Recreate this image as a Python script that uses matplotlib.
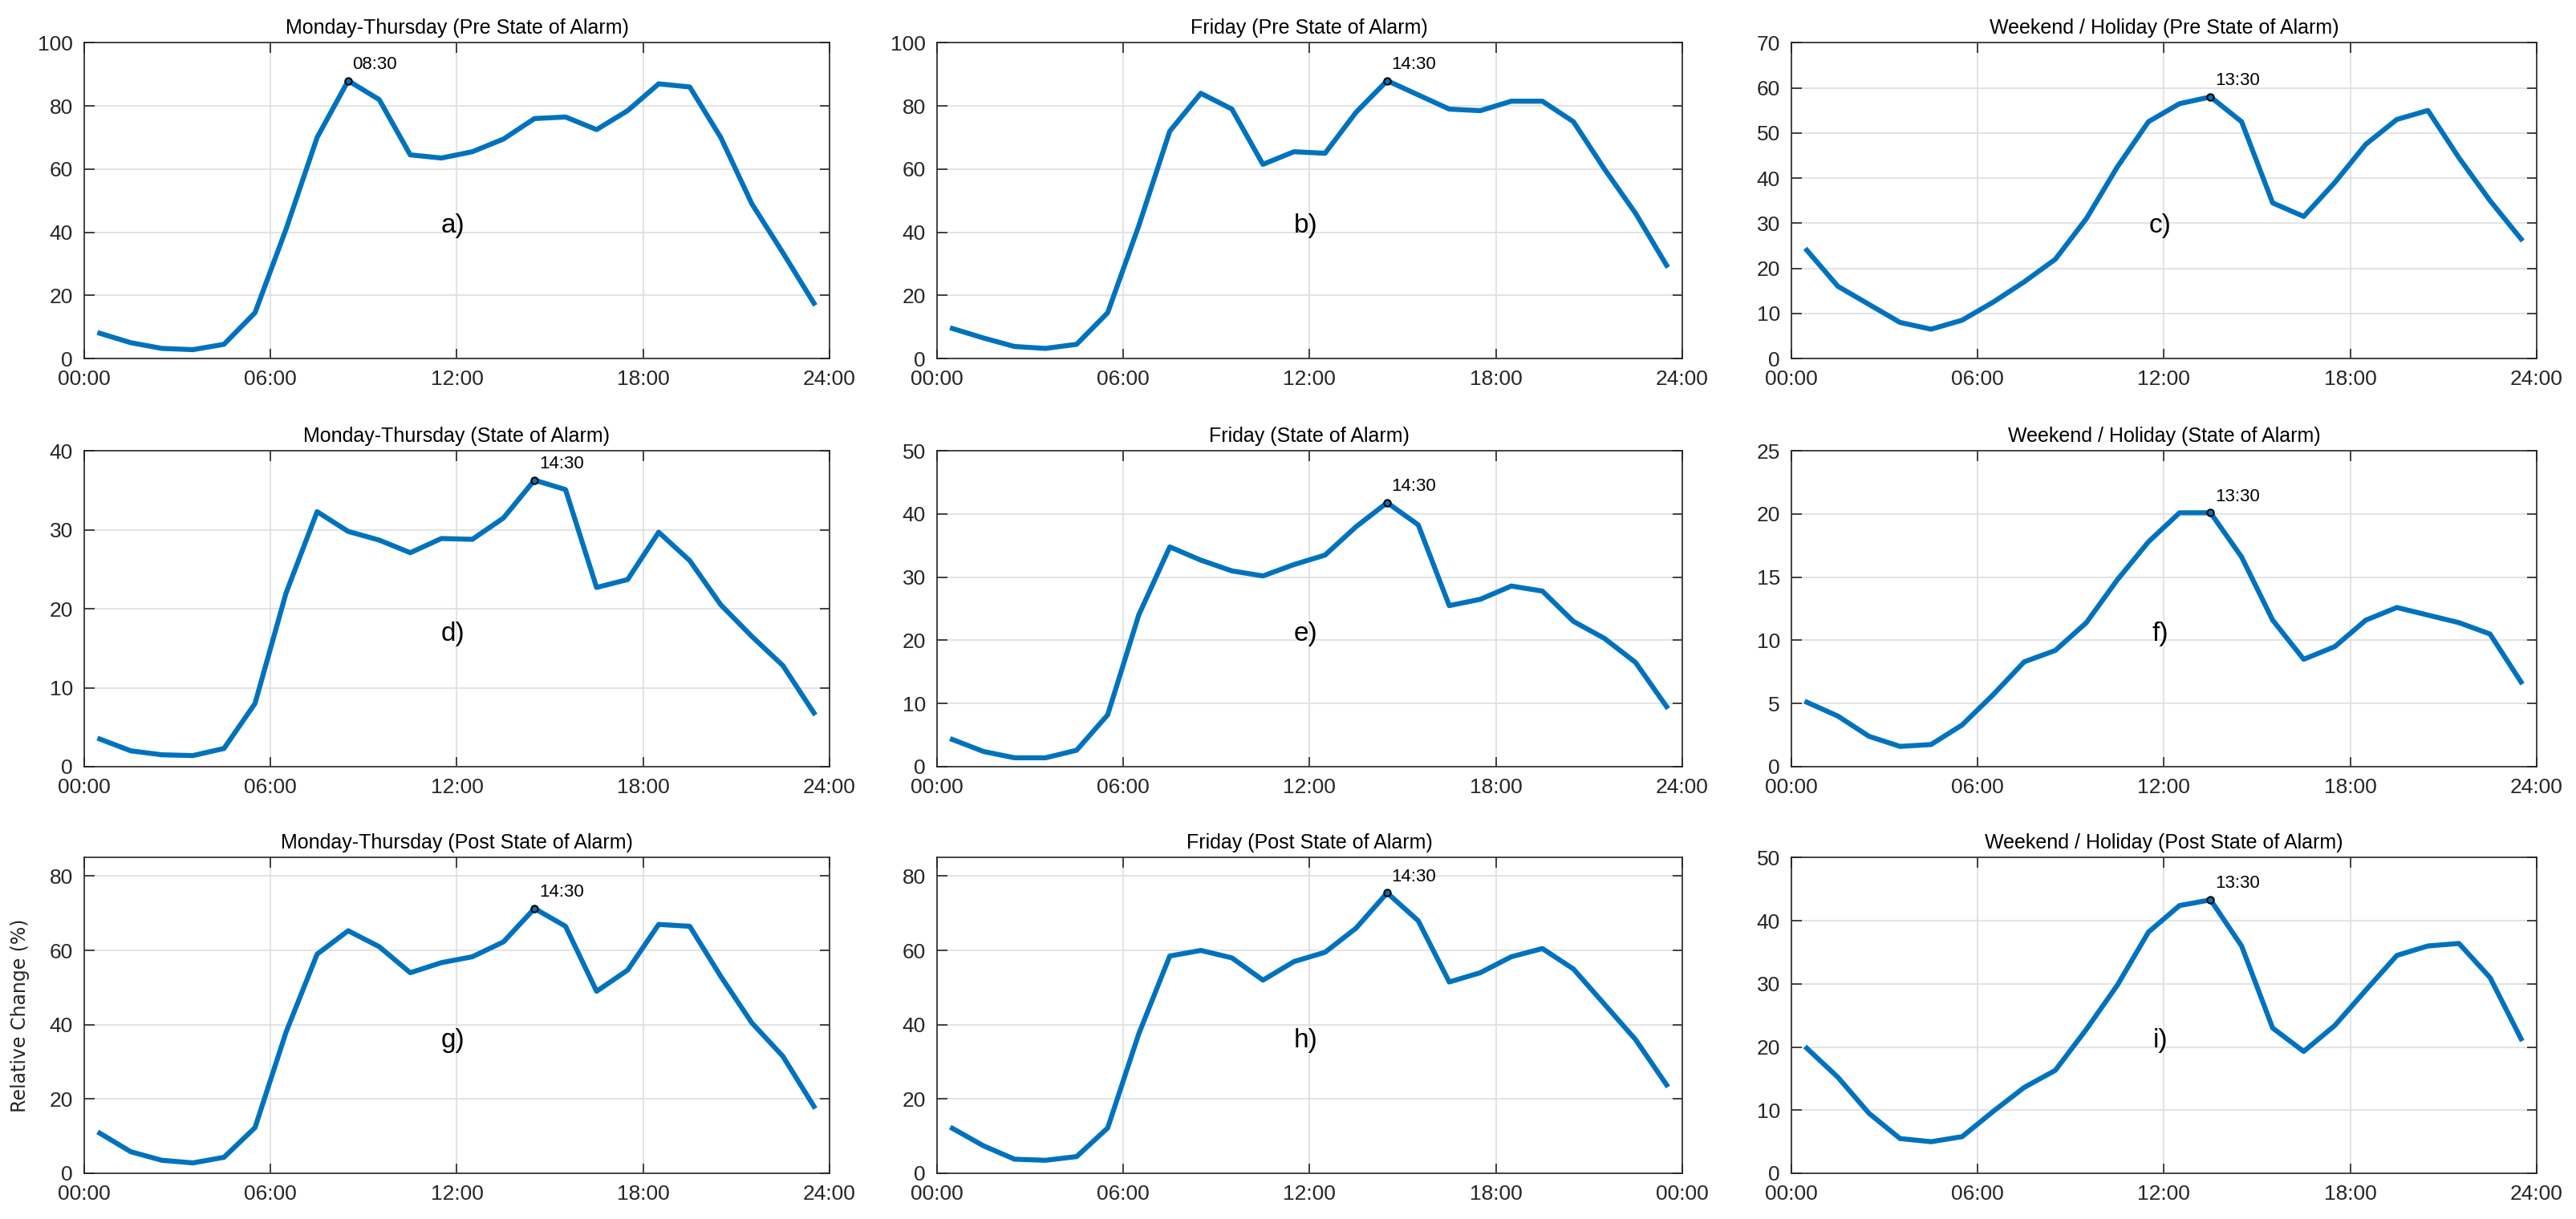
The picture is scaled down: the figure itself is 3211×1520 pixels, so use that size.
import numpy as np
import matplotlib
matplotlib.use('Agg')
import matplotlib.pyplot as plt

hours = np.arange(24) + 0.5

mt_pre = [8, 5, 3.2, 2.8, 4.5, 14.5, 41, 70, 88, 82, 64.5, 63.5, 65.5, 69.5,
          76, 76.5, 72.5, 78.5, 87, 86, 70, 49, 33.5, 17.5]
fr_pre = [9.5, 6.5, 3.8, 3.2, 4.5, 14.5, 42, 72, 84, 79, 61.5, 65.5, 65, 78,
          88, 83.5, 79, 78.5, 81.5, 81.5, 75, 60, 46, 29.5]
we_pre = [24, 16, 12, 8, 6.5, 8.5, 12.5, 17, 22, 31, 42.5, 52.5, 56.5, 58,
          52.5, 34.5, 31.5, 39, 47.5, 53, 55, 44.5, 35, 26.5]
mt_soa = [3.5, 2.0, 1.5, 1.4, 2.3, 8, 22, 32.3, 29.8, 28.7, 27.1, 28.9, 28.8, 31.5,
          36.3, 35.1, 22.7, 23.7, 29.7, 26.1, 20.5, 16.5, 12.8, 6.8]
fr_soa = [4.3, 2.4, 1.4, 1.4, 2.6, 8.2, 24, 34.8, 32.7, 31, 30.2, 32, 33.5, 38,
          41.8, 38.3, 25.5, 26.5, 28.6, 27.8, 23, 20.3, 16.5, 9.5]
we_soa = [5.1, 4.0, 2.4, 1.6, 1.75, 3.3, 5.7, 8.3, 9.2, 11.4, 14.8, 17.8, 20.1, 20.1,
          16.6, 11.6, 8.5, 9.5, 11.6, 12.6, 12.0, 11.4, 10.5, 6.7]
mt_post = [10.8, 5.8, 3.5, 2.8, 4.3, 12.3, 38, 59, 65.3, 61, 54, 56.7, 58.3, 62.3,
           71.3, 66.5, 49, 54.7, 67, 66.5, 53, 40.5, 31.5, 18]
fr_post = [12.1, 7.4, 3.8, 3.5, 4.5, 12.2, 37.5, 58.5, 60, 58, 52, 57, 59.5, 66,
           75.5, 68, 51.5, 54, 58.3, 60.5, 55, 45.5, 36, 23.8]
we_post = [19.8, 15.2, 9.5, 5.5, 5.0, 5.8, 9.8, 13.6, 16.3, 22.8, 29.8, 38.2, 42.4, 43.3,
           36, 23, 19.3, 23.4, 29, 34.5, 36, 36.4, 31, 21.3]

titles = ['Monday-Thursday (Pre State of Alarm)', 'Friday (Pre State of Alarm)',
          'Weekend / Holiday (Pre State of Alarm)',
          'Monday-Thursday (State of Alarm)', 'Friday (State of Alarm)',
          'Weekend / Holiday (State of Alarm)',
          'Monday-Thursday (Post State of Alarm)', 'Friday (Post State of Alarm)',
          'Weekend / Holiday (Post State of Alarm)']
series = [mt_pre, fr_pre, we_pre, mt_soa, fr_soa, we_soa, mt_post, fr_post, we_post]
letters = ['a)', 'b)', 'c)', 'd)', 'e)', 'f)', 'g)', 'h)', 'i)']
peak_labels = ['08:30', '14:30', '13:30', '14:30', '14:30', '13:30', '14:30', '14:30', '13:30']
ylims = [(0, 100, 20), (0, 100, 20), (0, 70, 10),
         (0, 40, 10), (0, 50, 10), (0, 25, 5),
         (0, 85, 20), (0, 85, 20), (0, 50, 10)]
xticklabels = ['00:00', '06:00', '12:00', '18:00', '24:00']
xticklabels_h = ['00:00', '06:00', '12:00', '18:00', '00:00']

plt.rcParams['font.family'] = ['Liberation Sans', 'DejaVu Sans']

fig = plt.figure(figsize=(32.11, 15.2), dpi=100)
lefts = [0.0327, 0.3637, 0.6954]
bottoms = [0.7059, 0.3711, 0.0375]
w, h = 0.2893, 0.2590

dark = '#262626'
for i in range(9):
    r, c = divmod(i, 3)
    ax = fig.add_axes([lefts[c], bottoms[r], w, h])
    y = np.array(series[i])
    ax.plot(hours, y, color='#0072BD', lw=4.5, solid_joinstyle='round')
    # peak marker sits at the labelled half hour
    k = int(peak_labels[i][:2])
    ax.plot(hours[k], y[k], 'o', mfc='none', mec='k', ms=6, mew=1.5)
    ax.annotate(peak_labels[i], (hours[k], y[k]), xytext=(4, 7),
                textcoords='offset points', fontsize=16, color='k',
                ha='left', va='bottom')
    ax.text(0.495, 0.42, letters[i], transform=ax.transAxes, fontsize=24,
            ha='center', va='center')
    lo, hi, step = ylims[i]
    ax.set_ylim(lo, hi)
    ax.set_yticks(np.arange(lo, hi + 0.1, step))
    ax.set_xlim(0, 24)
    ax.set_xticks([0, 6, 12, 18, 24])
    ax.set_xticklabels(xticklabels_h if i == 7 else xticklabels)
    ax.set_title(titles[i], fontsize=18, color='k', pad=8)
    ax.grid(True, color='#dedede', lw=1.2)
    ax.set_axisbelow(True)
    ax.tick_params(direction='in', length=9, width=1.2, top=True, right=True,
                   labelsize=19, colors=dark, pad=10)
    for s in ax.spines.values():
        s.set_color(dark)
        s.set_linewidth(1.2)
    if i == 6:
        ax.set_ylabel('Relative Change (%)', fontsize=17, family='DejaVu Sans', color=dark)
        ax.yaxis.set_label_coords(-0.073, 0.5)

plt.savefig('out.png')
